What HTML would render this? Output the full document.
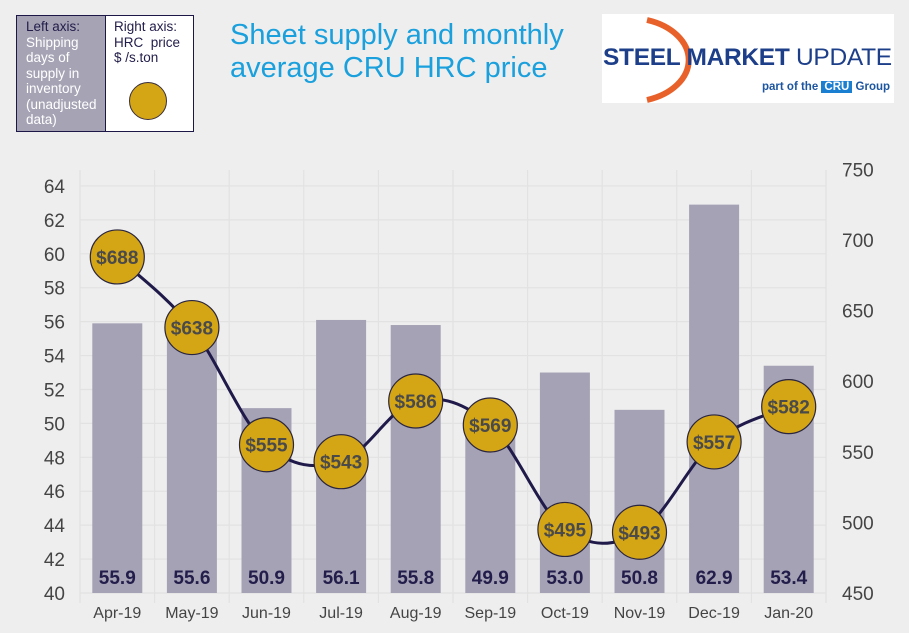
<!DOCTYPE html>
<html><head><meta charset="utf-8"><style>
body{margin:0;background:#eeeeee;font-family:"Liberation Sans",sans-serif;}
#wrap{position:relative;width:909px;height:633px;background:#eeeeee;overflow:hidden}
</style></head><body>
<div id="wrap">
<div style="position:absolute;left:16px;top:15px;width:90px;height:117px;background:#a6a3b5;border:1.5px solid #1c1746;box-sizing:border-box;padding:3px 0 0 9px;font-size:13.5px;line-height:15.5px;color:#fff">
<span style="color:#221d4a">Left axis:</span><br>Shipping days of supply in inventory (unadjusted data)</div>
<div style="position:absolute;left:105px;top:15px;width:89px;height:117px;background:#fff;border:1.5px solid #1c1746;box-sizing:border-box;padding:3px 0 0 8px;font-size:13.5px;line-height:15.5px;color:#221d4a">Right axis:<br>HRC &nbsp;price<br>$ /s.ton
<div style="position:absolute;left:23px;top:66px;width:36px;height:36px;border-radius:50%;background:#d4a514;border:1px solid #3a2f3a"></div></div>
<div style="position:absolute;left:230px;top:19px;font-size:29px;line-height:33px;color:#1aa0dc;white-space:nowrap">Sheet supply and monthly<br>average CRU HRC price</div>
<div style="position:absolute;left:602px;top:14px;width:292px;height:89px;background:#fff;overflow:hidden">
<svg width="292" height="89" style="position:absolute;left:0;top:0"><path d="M45 6 A60 42 0 0 1 45 86" stroke="#e8612a" stroke-width="6" fill="none"/></svg>
<div style="position:absolute;left:1px;top:30px;font-size:24.5px;font-weight:bold;color:#1d3f8a;letter-spacing:-0.3px;white-space:nowrap">STEEL MARKET <span style="font-weight:normal">UPDATE</span></div>
<div style="position:absolute;left:160px;top:67px;font-size:11.5px;font-weight:bold;color:#1d56a0;white-space:nowrap">part of the <span style="background:#1a7fd0;color:#fff;padding:0 3px">CRU</span> Group</div>
</div>
<svg id="chart" width="909" height="633" style="position:absolute;left:0;top:0"></svg>
</div>
<script>
const categories=["Apr-19","May-19","Jun-19","Jul-19","Aug-19","Sep-19","Oct-19","Nov-19","Dec-19","Jan-20"];
const supplyDays=[55.9,55.6,50.9,56.1,55.8,49.9,53.0,50.8,62.9,53.4];
const hrcPrice=[688,638,555,543,586,569,495,493,557,582];
const leftTicks=[40,42,44,46,48,50,52,54,56,58,60,62,64];
const rightTicks=[450,500,550,600,650,700,750];
const svg=document.getElementById('chart');
const NS="http://www.w3.org/2000/svg";
const X0=80,X1=826,Y0=593;
const yL=v=>Y0-(v-40)*16.96;
const yR=v=>Y0-(v-450)*1.412;
const step=(X1-X0)/categories.length;
const xC=i=>X0+step*(i+0.5);
function mk(t,a,p){const e=document.createElementNS(NS,t);for(const k in a)e.setAttribute(k,a[k]);(p||svg).appendChild(e);return e;}
leftTicks.forEach(v=>{const l=mk('line',{x1:X0,x2:X1,y1:yL(v),y2:yL(v),stroke:'#e2e2e2','stroke-width':1.2});


const t=mk('text',{x:65,y:yL(v)+7,'text-anchor':'end','font-size':19,fill:'#444'});t.textContent=v;

});
for(let i=0;i<=categories.length;i++){const l=mk('line',{x1:X0+step*i,x2:X0+step*i,y1:170,y2:Y0+10,stroke:'#e2e2e2','stroke-width':1.2});

}
rightTicks.forEach(v=>{const t=mk('text',{x:842,y:yR(v)+7,'font-size':19,fill:'#444'});t.textContent=v;

});
supplyDays.forEach((v,i)=>{const r=mk('rect',{x:xC(i)-25,y:yL(v),width:50,height:Y0-yL(v),fill:'#a5a2b5'});


const t=mk('text',{x:xC(i),y:584,'text-anchor':'middle','font-size':19,'font-weight':'bold',fill:'#221d4a'});t.textContent=v.toFixed(1);


const c=mk('text',{x:xC(i),y:618,'text-anchor':'middle','font-size':16,fill:'#444'});c.textContent=categories[i];

});
const pts=hrcPrice.map((v,i)=>[xC(i),yR(v)]);
let d='M'+pts[0][0]+' '+pts[0][1];
for(let i=0;i<pts.length-1;i++){const p0=pts[i-1]||pts[i],p1=pts[i],p2=pts[i+1],p3=pts[i+2]||p2;const k=0.17;
d+=` C${p1[0]+(p2[0]-p0[0])*k} ${p1[1]+(p2[1]-p0[1])*k} ${p2[0]-(p3[0]-p1[0])*k} ${p2[1]-(p3[1]-p1[1])*k} ${p2[0]} ${p2[1]}`;}
const ln=mk('path',{d:d,fill:'none',stroke:'#1f1a4a','stroke-width':3});


pts.forEach((p,i)=>{const c=mk('circle',{cx:p[0],cy:p[1],r:27,fill:'#d4a514',stroke:'#2a2540','stroke-width':1.2});


const t=mk('text',{x:p[0],y:p[1]+7,'text-anchor':'middle','font-size':19,'font-weight':'bold',fill:'#4a4a4a'});t.textContent='$'+hrcPrice[i];

});
</script>
</body></html>
